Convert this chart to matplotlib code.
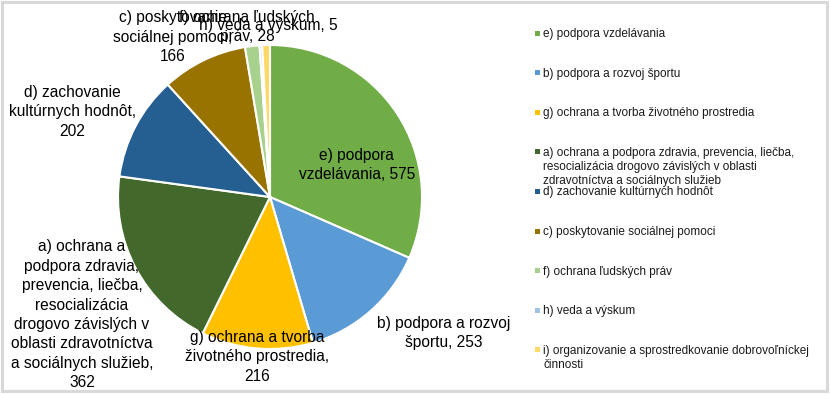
import matplotlib
matplotlib.use('Agg')
import matplotlib.pyplot as plt
from matplotlib.patches import Rectangle

plt.rcParams['font.family'] = ['Liberation Sans', 'DejaVu Sans']

# data ###########################################
labels = ['e) podpora vzdelávania',
          'b) podpora a rozvoj športu',
          'g) ochrana a tvorba životného prostredia',
          'a) ochrana a podpora zdravia, prevencia, liečba, resocializácia drogovo závislých v oblasti zdravotníctva a sociálnych služieb',
          'd) zachovanie kultúrnych hodnôt',
          'c) poskytovanie sociálnej pomoci',
          'f) ochrana ľudských práv',
          'h) veda a výskum',
          'i) organizovanie a sprostredkovanie dobrovoľníckej činnosti']
values = [575, 253, 216, 362, 202, 166, 28, 5, 15]
colors = ['#70AD47', '#5B9BD5', '#FFC000', '#43682B', '#255E91',
          '#997300', '#A9D18E', '#9DC3E6', '#FFD966']

# pie labels as drawn in the chart (wrapped), None = not shown
pie_texts = ['e) podpora\nvzdelávania, 575',
             'b) podpora a rozvoj\nšportu, 253',
             'g) ochrana a tvorba\nživotného prostredia,\n216',
             'a) ochrana a\npodpora zdravia,\nprevencia, liečba,\nresocializácia\ndrogovo závislých v\noblasti zdravotníctva\na sociálnych služieb,\n362',
             'd) zachovanie\nkultúrnych hodnôt,\n202',
             'c) poskytovanie\nsociálnej pomoci,\n166',
             'f) ochrana ľudských\npráv, 28',
             'h) veda a výskum, 5',
             None]
legend_texts = ['e) podpora vzdelávania',
                'b) podpora a rozvoj športu',
                'g) ochrana a tvorba životného prostredia',
                'a) ochrana a podpora zdravia, prevencia, liečba,\nresocializácia drogovo závislých v oblasti\nzdravotníctva a sociálnych služieb',
                'd) zachovanie kultúrnych hodnôt',
                'c) poskytovanie sociálnej pomoci',
                'f) ochrana ľudských práv',
                'h) veda a výskum',
                'i) organizovanie a sprostredkovanie dobrovoľníckej\nčinnosti']

# label spots (pie radius units, relative to centre)
label_pos = [(0.57, 0.21), (1.145, -0.895), (-0.086, -1.05), (-1.237, -0.775),
             (-1.30, 0.56), (-0.64, 1.05), (-0.15, 1.12), (-0.01, 1.13), None]

W, H = 830, 394
fig = plt.figure(figsize=(W/100, H/100), dpi=100)

# pie ###########################################
cx, cy, r = 270, 197, 152
ax = fig.add_axes([(cx-r)/W, (H-cy-r)/H, 2*r/W, 2*r/H])
ax.pie(values, colors=colors, startangle=90, counterclock=False, radius=1,
       wedgeprops={'edgecolor': 'white', 'linewidth': 1.5})
ax.set_xlim(-1, 1)
ax.set_ylim(-1, 1)
ax.set_aspect('equal')
ax.axis('off')

for txt, pos in zip(pie_texts, label_pos):
    if txt is None:
        continue
    ax.text(pos[0], pos[1], txt, ha='center', va='center', fontsize=11.2,
            linespacing=1.37, color='#000000', clip_on=False)

# legend ##########################################
for i, (txt, col) in enumerate(zip(legend_texts, colors)):
    y = 1 - (33 + 39.6*i)/H
    fig.patches.append(Rectangle((535/W, y - 2.5/H), 5/W, 5/H, transform=fig.transFigure,
                                 facecolor=col, edgecolor='none'))
    fig.text(543/W, y + 5/H, txt, ha='left', va='top', fontsize=8.5,
             linespacing=1.23, color='#1a1a1a')

# frame ###########################################
fig.patches.append(Rectangle((1.5/W, 3.5/H), 825/W, 389/H, transform=fig.transFigure,
                             facecolor='none', edgecolor='#D9D9D9', linewidth=2.2))

fig.savefig('out.png', dpi=100)
